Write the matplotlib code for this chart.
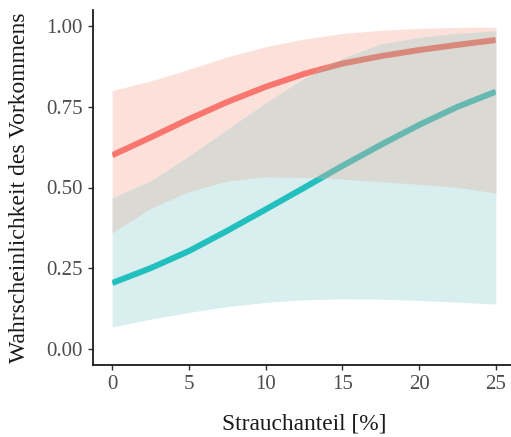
import numpy as np
import matplotlib
matplotlib.use("Agg")
import matplotlib.pyplot as plt
from matplotlib.patches import Polygon

# ---- data ----
strauch = [0, 2.5, 5, 7.5, 10, 12.5, 15, 17.5, 20, 22.5, 25]

red_fit = [0.600, 0.655, 0.712, 0.765, 0.812, 0.852, 0.884, 0.907, 0.926, 0.942, 0.957]
red_lo = [0.360, 0.435, 0.487, 0.520, 0.533, 0.531, 0.526, 0.518, 0.510, 0.500, 0.483]
red_hi = [0.800, 0.830, 0.866, 0.905, 0.936, 0.960, 0.977, 0.987, 0.993, 0.996, 0.997]

blue_fit = [0.204, 0.250, 0.303, 0.366, 0.432, 0.499, 0.567, 0.632, 0.694, 0.750, 0.797]
blue_lo = [0.068, 0.092, 0.113, 0.131, 0.144, 0.152, 0.155, 0.154, 0.150, 0.145, 0.139]
blue_hi = [0.468, 0.520, 0.597, 0.680, 0.762, 0.838, 0.900, 0.945, 0.965, 0.978, 0.985]

x_ticks = [0, 5, 10, 15, 20, 25]
y_ticks = [0.00, 0.25, 0.50, 0.75, 1.00]
y_ticklabels = ["0.00", "0.25", "0.50", "0.75", "1.00"]

# ---- style ----
plt.rcParams["font.family"] = ["Liberation Serif", "DejaVu Serif"]
PINK = "#FCE0DA"
TEAL_FILL = "#D9EEEF"
GREY = "#DBD9D4"
RED = "#F8766D"
RED_MUTED = "#D9887C"
TEAL = "#22BFBF"
TEAL_MUTED = "#66B8B0"

fig = plt.figure(figsize=(5.11, 4.37), dpi=100)
ax = fig.add_axes([93 / 511, 72 / 437, 422 / 511, 355 / 437])

x = np.array(strauch)
rl, rh = np.array(red_lo), np.array(red_hi)
bl, bh = np.array(blue_lo), np.array(blue_hi)

# ribbons: red-only, blue-only and overlap drawn as opaque regions
ax.fill_between(x, rl, rh, color=PINK, lw=0, zorder=1)
ax.fill_between(x, bl, bh, color=TEAL_FILL, lw=0, zorder=1)
ov_lo = np.maximum(rl, bl)
ov_hi = np.minimum(rh, bh)
ax.fill_between(x, ov_lo, ov_hi, where=ov_hi > ov_lo, color=GREY, lw=0,
                zorder=2, interpolate=True)

# clip polygons derived from the ribbon data
blue_poly = Polygon(np.column_stack([np.r_[x, x[::-1]], np.r_[bl, bh[::-1]]]),
                    closed=True, transform=ax.transData, fill=False, lw=0)
red_poly = Polygon(np.column_stack([np.r_[x, x[::-1]], np.r_[rl, rh[::-1]]]),
                   closed=True, transform=ax.transData, fill=False, lw=0)
above_blue = Polygon(np.column_stack([np.r_[x, x[::-1]],
                                      np.r_[bh, np.full_like(bh, 2.0)]]),
                     closed=True, transform=ax.transData, fill=False, lw=0)
below_red = Polygon(np.column_stack([np.r_[x, x[::-1]],
                                     np.r_[rl, np.full_like(rl, -1.0)]]),
                    closed=True, transform=ax.transData, fill=False, lw=0)
for p in (blue_poly, red_poly, above_blue, below_red):
    ax.add_patch(p)

LW = 4.3
l1, = ax.plot(x, red_fit, color=RED, lw=LW, zorder=3, solid_capstyle="butt",
              solid_joinstyle="round")
l1.set_clip_path(above_blue)
l2, = ax.plot(x, red_fit, color=RED_MUTED, lw=LW, zorder=3, solid_capstyle="butt",
              solid_joinstyle="round")
l2.set_clip_path(blue_poly)
l3, = ax.plot(x, blue_fit, color=TEAL, lw=LW, zorder=3, solid_capstyle="butt",
              solid_joinstyle="round")
l3.set_clip_path(below_red)
l4, = ax.plot(x, blue_fit, color=TEAL_MUTED, lw=LW, zorder=3, solid_capstyle="butt",
              solid_joinstyle="round")
l4.set_clip_path(red_poly)

ax.set_xlim(-1.25, 26.25)
ax.set_ylim(-0.05, 1.05)
ax.set_xticks(x_ticks)
ax.set_yticks(y_ticks)
ax.set_yticklabels(y_ticklabels)

for s in ("top", "right"):
    ax.spines[s].set_visible(False)
for s in ("left", "bottom"):
    ax.spines[s].set_color("#1a1a1a")
    ax.spines[s].set_linewidth(1.3)

ax.tick_params(axis="both", length=3.8, width=1.0, color="#333333",
               labelcolor="#4D4D4D", labelsize=15)
ax.tick_params(axis="y", pad=3.5)
ax.tick_params(axis="x", pad=3.5)

ax.set_xlabel("Strauchanteil [%]", fontsize=16.8, color="#1a1a1a", labelpad=14)
ax.set_ylabel("Wahrscheinlichkeit des Vorkommens", fontsize=17.0, color="#1a1a1a",
              labelpad=12)

fig.savefig("out.png", dpi=100)
